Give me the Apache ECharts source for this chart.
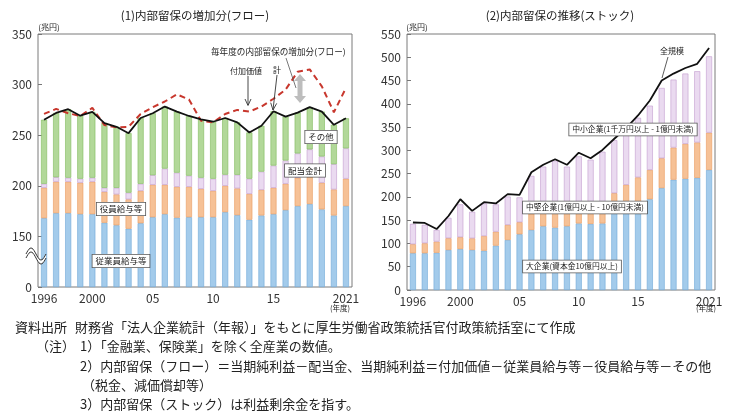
<!DOCTYPE html>
<html><head><meta charset="utf-8">
<script src="https://cdn.jsdelivr.net/npm/echarts/dist/echarts.min.js"></script>
<style>html,body{margin:0;padding:0;background:#fff}#c{width:735px;height:413px}</style>
</head><body><div id="c"></div>
<script>
// ---------- categories ----------
const years = ['1996','1997','1998','1999','2000','2001','2002','2003','2004','2005','2006','2007','2008','2009','2010','2011','2012','2013','2014','2015','2016','2017','2018','2019','2020','2021'];
const xTickLabels = ['1996','','','','2000','','','','','05','','','','','10','','','','','15','','','','','','2021'];

// ---------- (1) flow, 兆円 ----------
const employeeComp = [168,173,173,172,172,163.5,161,157.6,163,169,172,168.5,169,169,169,174,171,166.5,170.7,172,176,180,182,176.7,170.7,180];
const officerComp  = [30,31,31,31,32,30.5,30.5,29,32,32,29,30.5,30,28,26,26,26.4,25.5,25.3,26,26,28,27,26.3,25.7,27];
const dividends    = [4,4.5,4,4,4,4,6.5,6.6,7,9.5,16,14,11,11,12,11,13.5,15,18,22,23,24,27,26,25,30];
const otherItems   = [63.3,63.5,67.7,62.3,65,64,60.3,58.8,65,61.2,61.3,60.3,59,57.7,56.3,56,51.8,45.7,45.3,53.7,43.3,40.3,41.7,44.3,38.9,29.7];
const totalFlow    = [265.3,272,275.7,269.3,273,262,258.3,252,267,271.7,278.3,273.3,269,265.7,263.3,267,262.7,252.7,259.3,273.7,268.3,272.3,277.7,273.3,260.3,266.7];
const valueAdded   = [271,276,271.7,269,277,260,257.7,258.3,271,277.7,283.3,290.3,285.3,264.3,262.7,271,275,273.3,278.3,286,295,312.7,315,298.3,272.7,296.7];
const leftTicks    = [0,150,200,250,300,350];
const BREAK = 100; // axis is broken between 0 and 150

// ---------- (2) stock, 兆円 ----------
const largeCorp  = [79,79,80,86,88,86,84.5,95.3,107.5,119.8,129,137,134,137,143,142,143,165,172,182,195,219,237,239,241,258];
const midCorp    = [19.3,21.4,24,25.2,25.4,25,31.5,30,32.3,25.8,35,36,37,38,38,40,42,43,54,60,63,64,69,75,76,80];
const smallCorp  = [43.7,39.6,25,43.8,70.6,57,70,58.6,61,53.4,81,92,107,90,106,98,112,114,118,128,138,151,146,151,153,164];
const allSizes   = [145,144,131,159,195,170,188.6,186,206,204.5,253,269,281,269,295,283,301,325,348,375,407,450,465,477,486,520];

const FONT = '"Noto Sans CJK JP","Noto Sans",sans-serif';
const chart = echarts.init(document.getElementById('c'), null, {renderer:'canvas'});

const xAxisBase = (gi) => ({
  type:'category', gridIndex:gi, data:years, boundaryGap:true,
  axisLine:{show:false}, axisTick:{show:false},
  axisLabel:{interval:0, formatter:(v,i)=>xTickLabels[i], fontSize:12, color:'#333', margin:5, fontFamily:FONT}
});
const yAxisBase = (gi, max) => ({
  type:'value', gridIndex:gi, min:0, max:max, interval:50,
  axisLine:{show:false}, splitLine:{show:false},
  axisTick:{show:true, inside:true, length:4, lineStyle:{color:'#777'}},
  axisLabel:{fontSize:12, color:'#333', margin:6, fontFamily:FONT}
});

function bar(name, data, stack, xi, color, border){
  return {name, type:'bar', stack, xAxisIndex:xi, yAxisIndex:xi, data, barWidth:6,
    itemStyle:{color, borderColor:border, borderWidth:0.6}, silent:true, z:2};
}
function line(name, data, xi, color, width, dashed){
  return {name, type:'line', xAxisIndex:xi, yAxisIndex:xi, data, symbol:'none', silent:true, z:5,
    lineStyle:{color, width, type: dashed ? [6,4] : 'solid'}};
}

function txt(t, x, y, size, align){
  return {type:'text', z:100, style:{text:t, x, y, font:size+'px '+FONT, fill:'#222', align:align||'center', verticalAlign:'middle'}};
}
function box(t, x, y, size){
  return {type:'text', z:100, style:{text:t, x, y, font:size+'px '+FONT, fill:'#222', align:'center', verticalAlign:'middle',
    backgroundColor:'#fff', borderColor:'#555', borderWidth:0.8, padding:[2,3]}};
}
function seg(x1,y1,x2,y2,color,w){
  return {type:'line', z:100, shape:{x1,y1,x2,y2}, style:{stroke:color||'#333', lineWidth:w||0.8}};
}
function pl(points,color,w){
  return {type:'polyline', z:100, shape:{points}, style:{stroke:color||'#333', lineWidth:w||0.8}};
}
// wavy axis-break symbol (decoration)
function wave(x0, yc, w, amp, gap){
  const up = [], lo = [];
  for (let k = 0; k <= 20; k++){
    const x = x0 + w*k/20, y = yc - amp*Math.sin(2*Math.PI*k/20);
    up.push([x, y]); lo.push([x, y + gap]);
  }
  return [
    {type:'polygon', z:99, shape:{points: up.concat(lo.slice().reverse())}, style:{fill:'#fff'}},
    {type:'polyline', z:100, shape:{points: up}, style:{stroke:'#333', lineWidth:1}},
    {type:'polyline', z:100, shape:{points: lo}, style:{stroke:'#333', lineWidth:1}}
  ];
}

const notes = [
  txt('資料出所', 15, 327, 13, 'left'),
  txt('財務省「法人企業統計（年報）」をもとに厚生労働省政策統括官付政策統括室にて作成', 75, 327, 13, 'left'),
  txt('（注）', 36, 346, 13, 'left'),
  txt('1）「金融業、保険業」を除く全産業の数値。', 80, 346, 13, 'left'),
  txt('2）内部留保（フロー）＝当期純利益－配当金、当期純利益＝付加価値－従業員給与等－役員給与等－その他', 80, 366, 13, 'left'),
  txt('（税金、減価償却等）', 82, 385, 13, 'left'),
  txt('3）内部留保（ストック）は利益剰余金を指す。', 80, 404, 13, 'left')
];

const graphics = [
  txt('(1)内部留保の増加分(フロー)', 195, 16, 11.5),
  txt('(2)内部留保の推移(ストック)', 560, 16, 11.5),
  txt('(兆円)', 49, 27, 8),
  txt('(兆円)', 417, 27, 8),
  txt('(年度)', 340, 308, 7.5),
  txt('(年度)', 706, 308, 7.5)
].concat(wave(26, 254, 20, 6, 4)).concat([
  // left annotations
  txt('毎年度の内部留保の増加分(フロー)', 211, 52, 8.6, 'left'),
  seg(286,58,296,88,'#555',0.8),
  {type:'polygon', z:100, shape:{points:[[300,74],[306,81],[302.5,81],[302.5,96],[306,96],[300,103],[294,96],[297.5,96],[297.5,81],[294,81]]}, style:{fill:'#bdbdbd'}},
  txt('付加価値', 246, 71, 8),
  seg(248,76,248,105,'#333',0.9),
  pl([[245,99],[248,105.5],[251,99]],'#333',0.9),
  txt('計', 277, 70, 8),
  seg(277,75,273,110,'#333',0.9),
  pl([[276.7,103.4],[273,110],[270.7,102.7]],'#333',0.9),
  box('その他', 321, 137, 8.5),
  box('配当金計', 305, 170.5, 8.5),
  box('役員給与等', 121, 209, 8.5),
  box('従業員給与等', 121, 261, 8.5),
  // right annotations
  txt('全規模', 672, 51, 8),
  seg(668,57,662,78,'#333',0.8),
  box('中小企業(1千万円以上 - 1億円未満)', 633, 129.5, 7.8),
  box('中堅企業(1億円以上 - 10億円未満)', 585, 207.5, 7.8),
  box('大企業(資本金10億円以上)', 572, 266.5, 7.8)
]).concat(notes);

const option = {
  animation:false,
  backgroundColor:'#fff',
  textStyle:{fontFamily:FONT},
  grid:[
    {left:38, top:34, width:314, height:253, show:true, borderColor:'#7a7a7a', borderWidth:1, backgroundColor:'transparent'},
    {left:407, top:34, width:308, height:256, show:true, borderColor:'#7a7a7a', borderWidth:1, backgroundColor:'transparent'}
  ],
  xAxis:[xAxisBase(0), xAxisBase(1)],
  yAxis:[
    Object.assign(yAxisBase(0, 250), {axisLabel:{fontSize:12, color:'#333', margin:6, fontFamily:FONT,
      formatter:(v)=> v === 0 ? String(leftTicks[0]) : String(v + BREAK)}}),
    yAxisBase(1, 550)
  ],
  series:[
    bar('従業員給与等', employeeComp.map(v => v - BREAK), 'flow', 0, '#a3cbeb', '#6fa8d6'),
    bar('役員給与等', officerComp, 'flow', 0, '#f6c196', '#e99b5e'),
    bar('配当金計', dividends, 'flow', 0, '#eadaf0', '#c29ccf'),
    bar('その他', otherItems, 'flow', 0, '#b2d899', '#7fbb5c'),
    line('付加価値', valueAdded.map(v => v - BREAK), 0, '#c8372d', 2, true),
    line('計', totalFlow.map(v => v - BREAK), 0, '#111', 1.8, false),
    bar('大企業', largeCorp, 'stock', 1, '#a3cbeb', '#6fa8d6'),
    bar('中堅企業', midCorp, 'stock', 1, '#f6c196', '#e99b5e'),
    bar('中小企業', smallCorp, 'stock', 1, '#eadaf0', '#c29ccf'),
    line('全規模', allSizes, 1, '#111', 1.8, false)
  ],
  graphic:{elements:graphics}
};
chart.setOption(option);
</script></body></html>
